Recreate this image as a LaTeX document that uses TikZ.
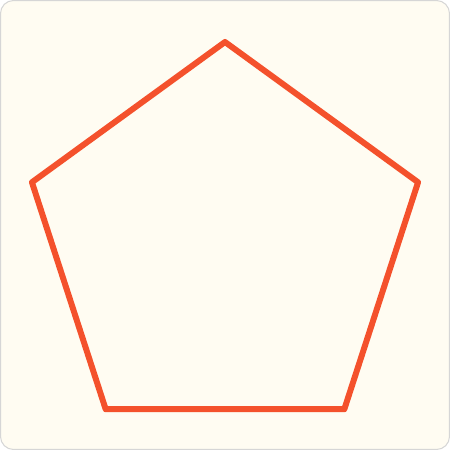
\documentclass[tikz,border=0pt]{standalone}
\usepackage{xcolor}
\usepackage{tikz}
\usetikzlibrary{shapes.geometric}
\definecolor{cream}{HTML}{FFFCF2}
\definecolor{edgegray}{HTML}{D6D6D6}
\definecolor{penred}{HTML}{F4512C}
\begin{document}
\begin{tikzpicture}
  \useasboundingbox (0,0) rectangle (9,9);
  \draw[edgegray,fill=cream,line width=0.6pt,rounded corners=0.26cm]
    (0.01,0.01) rectangle (8.99,8.99);
  \node[regular polygon,regular polygon sides=5,draw=penred,
        line width=3.4pt,line join=round,inner sep=0pt,
        minimum size=8.12cm] (pent) at (4.5,4.1) {};
\end{tikzpicture}
\end{document}
